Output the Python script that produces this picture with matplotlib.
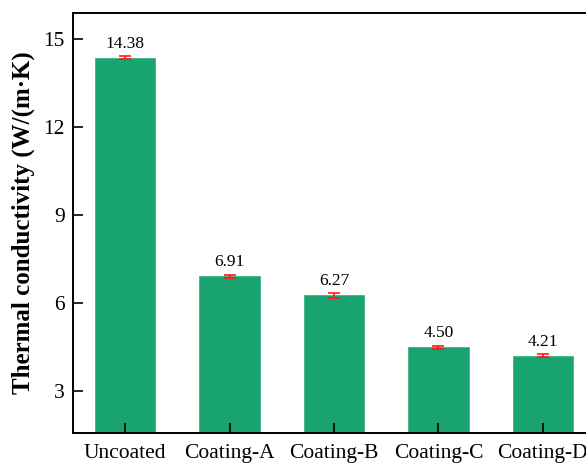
import numpy as np
import matplotlib.pyplot as plt

plt.rcParams['font.family'] = ['Liberation Serif', 'DejaVu Serif']

samples = ['Uncoated', 'Coating-A', 'Coating-B', 'Coating-C', 'Coating-D']
conductivity = [14.38, 6.91, 6.27, 4.50, 4.21]
conductivity_err = [0.05, 0.06, 0.08, 0.05, 0.04]

fig = plt.figure(figsize=(5.86, 4.63), dpi=100)
# axes run past the right edge of the canvas on purpose
ax = fig.add_axes([73 / 586, 30 / 463, 522 / 586, 420 / 463])

x = np.arange(len(samples))
ax.bar(x, conductivity, width=0.58, color='#19a36e', edgecolor='#3fb585', linewidth=0.6,
       yerr=conductivity_err, error_kw=dict(ecolor='#ff1a1a', elinewidth=1.2, capsize=4, capthick=1.2))

for xi, v, e in zip(x, conductivity, conductivity_err):
    ax.text(xi, v + e + 0.15, f'{v:.2f}', ha='center', va='bottom', fontsize=12.5)

ax.set_xlim(-0.5, len(samples) - 0.5)
ax.set_ylim(1.57, 15.9)
ax.set_yticks([3, 6, 9, 12, 15])
ax.set_xticks(x)
ax.set_xticklabels(samples)
ax.tick_params(axis='both', direction='in', length=7, width=1.2, labelsize=15.5)
ax.tick_params(axis='x', pad=8)
ax.tick_params(axis='y', pad=6)

for sp in ax.spines.values():
    sp.set_linewidth(1.4)

ax.set_ylabel('Thermal conductivity (W/(m·K)', fontsize=18, fontweight='bold', labelpad=6)

fig.savefig('out.png', dpi=100)
